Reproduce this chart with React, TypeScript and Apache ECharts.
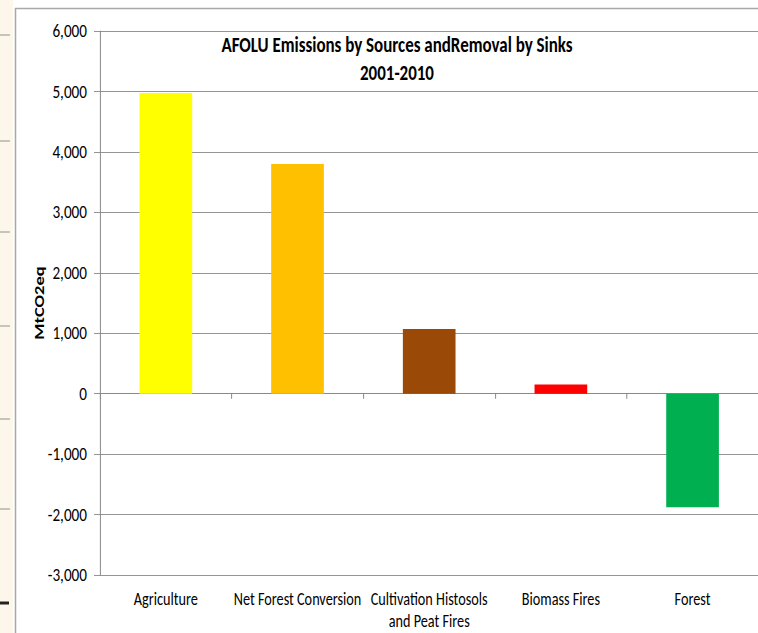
import React, { useEffect, useRef } from "react";
import * as echarts from "echarts";

const categories = [
  "Agriculture",
  "Net Forest Conversion",
  "Cultivation Histosols\nand Peat Fires",
  "Biomass Fires",
  "Forest",
];
const values = [4975, 3800, 1070, 150, -1880];
const barColors = ["#FFFF00", "#FFC000", "#9A4A06", "#FF0000", "#00B050"];
const yMin = -3000;
const yMax = 6000;
const yInterval = 1000;
const titleLines = ["AFOLU Emissions by Sources andRemoval by Sinks", "2001-2010"];
const yAxisName = "MtCO2eq";
const leftMarksY = [35, 141, 232, 326, 419, 509];

const FONT = "Carlito, 'Liberation Sans', sans-serif";
const GRID = "#888888";
// The reference picture is squeezed horizontally; draw on a wider canvas and squeeze it back.
const SQ = 0.8;
const W = 758;
const H = 633;
const IW = W / SQ;
const sx = (x: number) => x / SQ;

export default function App() {
  const ref = useRef<HTMLDivElement>(null);
  useEffect(() => {
    if (!ref.current) return;
    const chart = echarts.init(ref.current, undefined, { renderer: "svg" });
    const graphics: any[] = [
      { type: "rect", shape: { x: 0, y: 0, width: sx(13), height: H }, style: { fill: "#FDF6EA" }, silent: true },
      ...leftMarksY.map((y) => ({
        type: "line",
        shape: { x1: 0, y1: y, x2: sx(10), y2: y },
        style: { stroke: "#c8c4bc", lineWidth: 2 },
        silent: true,
      })),
      { type: "line", shape: { x1: 0, y1: 603, x2: sx(9), y2: 603 }, style: { stroke: "#222", lineWidth: 3 }, silent: true },
      { type: "line", shape: { x1: sx(15.5), y1: 8, x2: sx(15.5), y2: H }, style: { stroke: "#a8a8a8", lineWidth: 1.9 }, silent: true },
      { type: "line", shape: { x1: sx(15), y1: 8.5, x2: IW, y2: 8.5 }, style: { stroke: "#a8a8a8", lineWidth: 1.5 }, silent: true },
    ];
    chart.setOption({
      animation: false,
      backgroundColor: "#ffffff",
      title: {
        text: titleLines.join("\n"),
        left: sx(393),
        top: 26,
        textAlign: "center",
        textStyle: { fontFamily: FONT, fontSize: 21.2, fontWeight: "bold", color: "#000", lineHeight: 28 },
      },
      graphic: graphics,
      grid: { left: sx(100), right: sx(-2), top: 31, bottom: 58, containLabel: false },
      xAxis: [
        {
          type: "category",
          data: categories,
          position: "bottom",
          axisLine: { onZero: true, lineStyle: { color: GRID, width: 1 } },
          axisTick: { show: true, length: 5, alignWithLabel: false, lineStyle: { color: GRID, width: 1.25 } },
          axisLabel: { show: false },
          splitLine: { show: false },
        },
        {
          type: "category",
          data: categories,
          position: "bottom",
          axisLine: { show: false, onZero: false },
          axisTick: { show: false },
          axisLabel: {
            show: true,
            interval: 0,
            margin: 13,
            fontFamily: FONT,
            fontSize: 17.8,
            lineHeight: 22,
            color: "#000",
          },
          splitLine: { show: false },
        },
      ],
      yAxis: {
        type: "value",
        min: yMin,
        max: yMax,
        interval: yInterval,
        name: yAxisName,
        nameLocation: "middle",
        nameGap: 67,
        nameRotate: 90,
        nameMoveOverlap: false,
        nameTextStyle: { fontFamily: FONT, fontSize: 18.5, fontWeight: "bold", color: "#000" },
        axisLine: { show: true, lineStyle: { color: GRID, width: 1.25 } },
        axisTick: { show: true, length: sx(6), lineStyle: { color: GRID } },
        axisLabel: {
          margin: sx(13),
          fontFamily: FONT,
          fontSize: 19,
          color: "#000",
          formatter: (v: number) => v.toLocaleString("en-US"),
        },
        splitLine: { show: true, lineStyle: { color: GRID, width: 1 } },
      },
      series: [
        {
          type: "bar",
          xAxisIndex: 0,
          barWidth: "40%",
          data: values.map((v, i) => ({ value: v, itemStyle: { color: barColors[i] } })),
        },
      ],
    });
    return () => chart.dispose();
  }, []);
  return (
    <div style={{ position: "absolute", left: 0, top: 0, width: W, height: H, overflow: "hidden" }}>
      <div
        ref={ref}
        style={{ width: IW, height: H, transform: `scaleX(${SQ})`, transformOrigin: "0 0" }}
      />
    </div>
  );
}
